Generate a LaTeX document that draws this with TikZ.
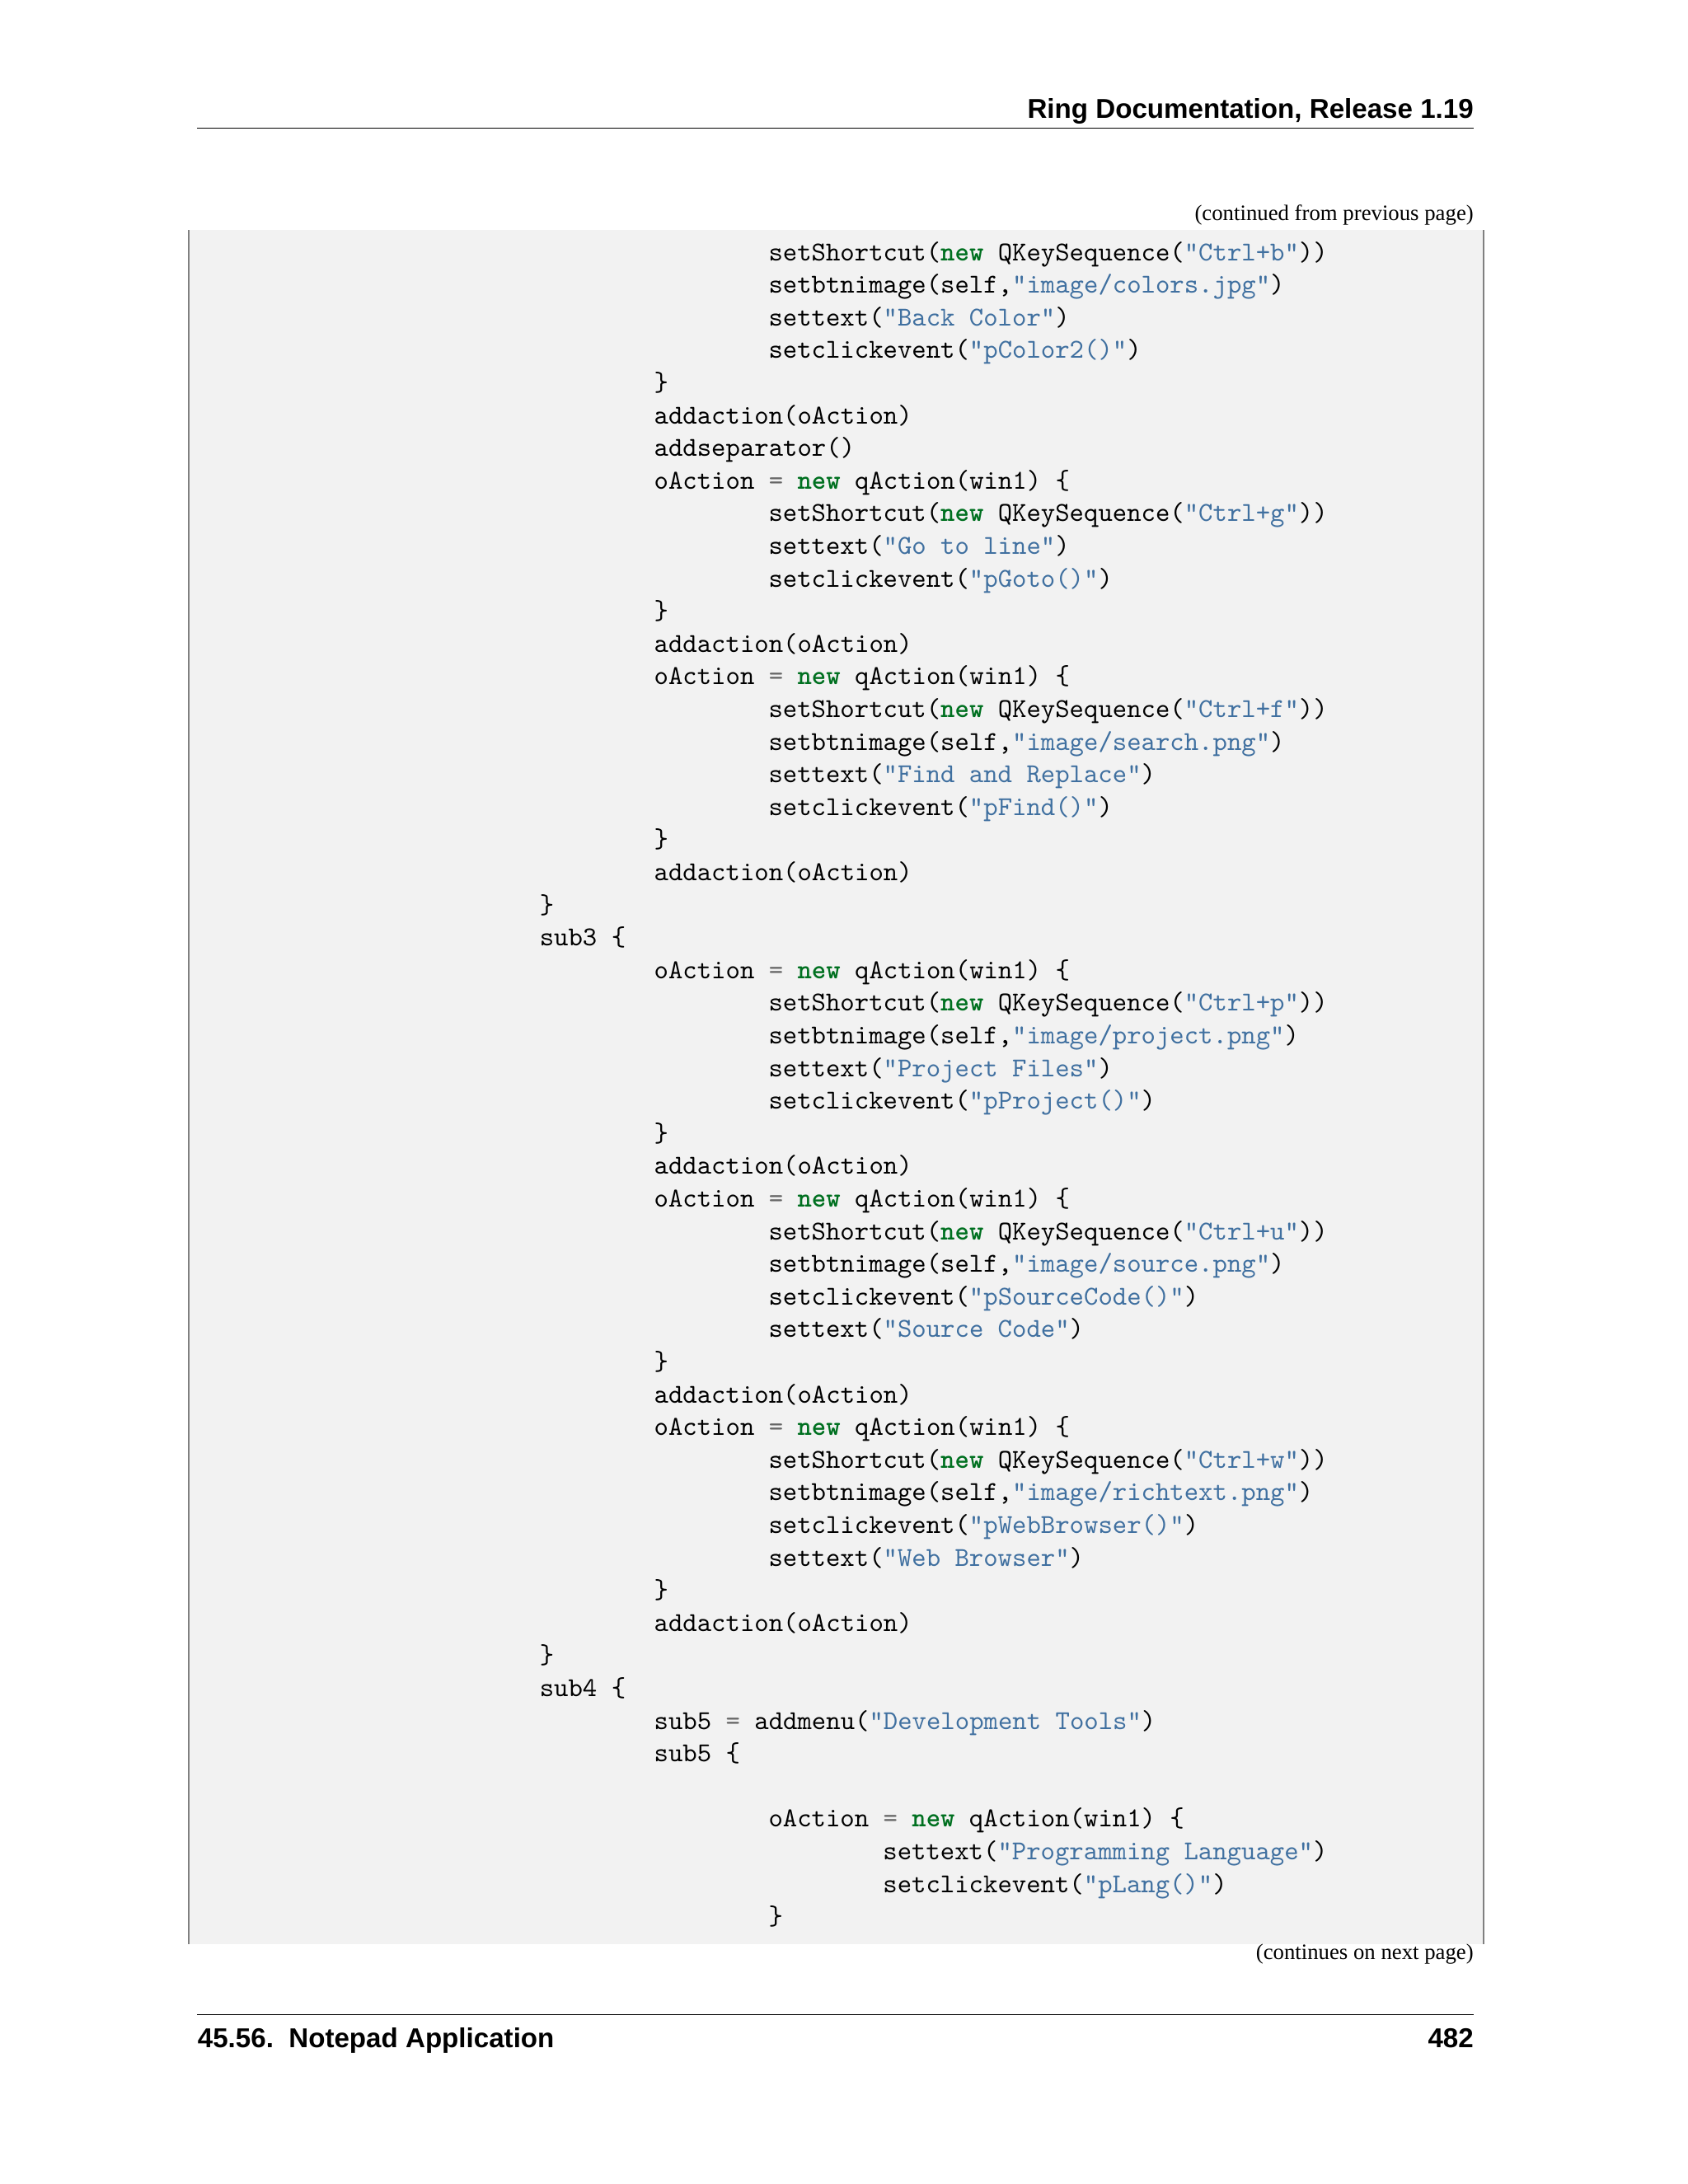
\documentclass[tikz,border=0pt]{standalone}
\usepackage{fontspec}
\setmainfont{Liberation Serif}
\setsansfont{Liberation Sans}
\definecolor{kwgreen}{HTML}{007020}
\definecolor{strblue}{HTML}{4070A0}
\definecolor{opgray}{HTML}{666666}
\definecolor{boxbg}{HTML}{F2F2F2}
\newcommand{\kw}[1]{\textcolor{kwgreen}{\bfseries #1}}
\newcommand{\st}[1]{\textcolor{strblue}{"#1"}}
\newcommand{\eqs}{\textcolor{opgray}{=}}
\tikzset{code/.style={anchor=base west,inner sep=0pt,font=\fontsize{9.9}{11}\ttfamily},
 hdr/.style={inner sep=0pt,font=\fontsize{9.9}{12}\sffamily\bfseries},
 note/.style={inner sep=0pt,anchor=base east,font=\fontsize{8}{9}\selectfont}}
\begin{document}
\begin{tikzpicture}[x=0.5pt,y=-0.5pt]
\useasboundingbox (0,0) rectangle (1224,1584);
\fill[white] (0,0) rectangle (1224,1584);
\node[hdr,anchor=base east] (h) at (1069,86) {Ring Documentation, Release 1.19};
\draw[line width=0.4pt] (143,93) -- (1069,93);
\node[note] (c1) at (1069,160) {(continued from previous page)};
\fill[boxbg] (137,167) rectangle (1076,1410);
\draw[gray,line width=0.5pt] (137,167) -- (137,1410);
\draw[gray,line width=0.5pt] (1076,167) -- (1076,1410);
\def\ls{23.67}
\newcommand{\cl}[3]{\node[code] (L#1) at (#2,{189+\ls*(#1-1)}) {#3};}
\cl{1}{557}{setShortcut(\kw{new} QKeySequence(\st{Ctrl+b}))}
\cl{2}{557}{setbtnimage(self,\st{image/colors.jpg})}
\cl{3}{557}{settext(\st{Back Color})}
\cl{4}{557}{setclickevent(\st{pColor2()})}
\cl{5}{474}{\}}
\cl{6}{474}{addaction(oAction)}
\cl{7}{474}{addseparator()}
\cl{8}{474}{oAction \eqs{} \kw{new} qAction(win1) \{}
\cl{9}{557}{setShortcut(\kw{new} QKeySequence(\st{Ctrl+g}))}
\cl{10}{557}{settext(\st{Go to line})}
\cl{11}{557}{setclickevent(\st{pGoto()})}
\cl{12}{474}{\}}
\cl{13}{474}{addaction(oAction)}
\cl{14}{474}{oAction \eqs{} \kw{new} qAction(win1) \{}
\cl{15}{557}{setShortcut(\kw{new} QKeySequence(\st{Ctrl+f}))}
\cl{16}{557}{setbtnimage(self,\st{image/search.png})}
\cl{17}{557}{settext(\st{Find and Replace})}
\cl{18}{557}{setclickevent(\st{pFind()})}
\cl{19}{474}{\}}
\cl{20}{474}{addaction(oAction)}
\cl{21}{391}{\}}
\cl{22}{391}{sub3 \{}
\cl{23}{474}{oAction \eqs{} \kw{new} qAction(win1) \{}
\cl{24}{557}{setShortcut(\kw{new} QKeySequence(\st{Ctrl+p}))}
\cl{25}{557}{setbtnimage(self,\st{image/project.png})}
\cl{26}{557}{settext(\st{Project Files})}
\cl{27}{557}{setclickevent(\st{pProject()})}
\cl{28}{474}{\}}
\cl{29}{474}{addaction(oAction)}
\cl{30}{474}{oAction \eqs{} \kw{new} qAction(win1) \{}
\cl{31}{557}{setShortcut(\kw{new} QKeySequence(\st{Ctrl+u}))}
\cl{32}{557}{setbtnimage(self,\st{image/source.png})}
\cl{33}{557}{setclickevent(\st{pSourceCode()})}
\cl{34}{557}{settext(\st{Source Code})}
\cl{35}{474}{\}}
\cl{36}{474}{addaction(oAction)}
\cl{37}{474}{oAction \eqs{} \kw{new} qAction(win1) \{}
\cl{38}{557}{setShortcut(\kw{new} QKeySequence(\st{Ctrl+w}))}
\cl{39}{557}{setbtnimage(self,\st{image/richtext.png})}
\cl{40}{557}{setclickevent(\st{pWebBrowser()})}
\cl{41}{557}{settext(\st{Web Browser})}
\cl{42}{474}{\}}
\cl{43}{474}{addaction(oAction)}
\cl{44}{391}{\}}
\cl{45}{391}{sub4 \{}
\cl{46}{474}{sub5 \eqs{} addmenu(\st{Development Tools})}
\cl{47}{474}{sub5 \{}
\cl{49}{557}{oAction \eqs{} \kw{new} qAction(win1) \{}
\cl{50}{640}{settext(\st{Programming Language})}
\cl{51}{640}{setclickevent(\st{pLang()})}
\cl{52}{557}{\}}
\node[note] (c2) at (1069,1421) {(continues on next page)};
\draw[line width=0.4pt] (143,1461) -- (1069,1461);
\node[hdr,anchor=base west] (f1) at (143,1485) {45.56.\ \ Notepad Application};
\node[hdr,anchor=base east] (f2) at (1069,1485) {482};
\end{tikzpicture}
\end{document}
